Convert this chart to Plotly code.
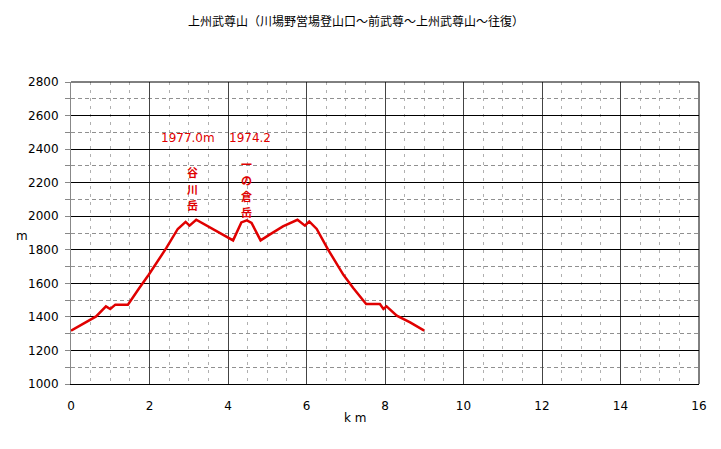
import plotly.graph_objects as go

# distance (km) and elevation (m) read from the profile
dist_km = [0.00, 0.64, 0.89, 1.00, 1.13, 1.45, 1.74, 1.98, 2.43, 2.72, 2.92, 3.02, 3.19, 3.53,
           4.13, 4.34, 4.48, 4.60, 4.83, 5.06, 5.40, 5.77, 5.96, 6.07, 6.26, 6.55, 6.94, 7.19,
           7.52, 7.87, 7.96, 8.04, 8.30, 8.64, 9.00]
elev_m = [1318, 1403, 1463, 1447, 1473, 1473, 1572, 1651, 1811, 1924, 1966, 1944, 1979, 1936,
          1856, 1963, 1975, 1960, 1856, 1890, 1939, 1979, 1944, 1969, 1924, 1801, 1651, 1572,
          1477, 1477, 1447, 1463, 1407, 1367, 1318]

title_text = "上州武尊山（川場野営場登山口～前武尊～上州武尊山～往復）"
peak_names = ["谷川岳", "一の倉岳"]
peak_name_x = [3.09, 4.47]
peak_name_char_y = [[2261, 2164, 2069], [2312, 2216, 2121, 2025]]
height_labels = ["1977.0m", "1974.2"]
height_label_x = [2.99, 4.55]
height_label_y = [2466, 2466]

x_ticks = list(range(0, 17, 2))
y_ticks = list(range(1000, 2801, 200))

RED = "#e00000"
fig = go.Figure()
fig.add_trace(go.Scatter(x=dist_km, y=elev_m, mode="lines",
                         line=dict(color=RED, width=2.5), hoverinfo="skip"))

# page body adds an 8px offset; figure is sized/margined to compensate
OFF = 8
L, T, PW, PH = 71, 82, 628, 302
fig.update_layout(
    width=721 - OFF, height=449 - OFF,
    margin=dict(l=L - OFF, r=721 - L - PW, t=T - OFF, b=449 - T - PH, autoexpand=False),
    paper_bgcolor="white", plot_bgcolor="white",
    showlegend=False,
    font=dict(family="DejaVu Sans", size=12, color="black"),
)
fig.update_xaxes(
    range=[0, 16], tickvals=x_ticks, ticks="", showline=True, linecolor="black", linewidth=1,
    showgrid=True, gridcolor="#444444", gridwidth=1, zeroline=False,
    ticklabelstandoff=11,
    minor=dict(dtick=0.5, tick0=0, showgrid=True, gridcolor="#b0b0b0", griddash="3px,5px", gridwidth=1),
)
fig.update_yaxes(
    range=[1000, 2800], tickvals=y_ticks, ticks="outside", ticklen=5, tickcolor="#888888",
    showline=True, linecolor="#888888", linewidth=1,
    showgrid=True, gridcolor="black", gridwidth=1, zeroline=False,
    ticklabelstandoff=4,
    minor=dict(dtick=100, tick0=1000, ticks="outside", ticklen=5, tickcolor="#888888",
               showgrid=True, gridcolor="#909090", griddash="4px,3px", gridwidth=1),
)

# frame top/right
fig.add_shape(type="line", xref="paper", yref="paper", x0=0, x1=1, y0=1, y1=1,
              line=dict(color="black", width=1))
fig.add_shape(type="line", xref="paper", yref="paper", x0=1, x1=1, y0=0, y1=1,
              line=dict(color="black", width=1))

fig.add_annotation(text=title_text, xref="paper", yref="paper", x=(356 - L) / PW, y=1 + (T - 20) / PH,
                   showarrow=False, xanchor="center", yanchor="middle",
                   font=dict(family="Noto Sans CJK JP", size=12, color="black"))
fig.add_annotation(text="m", xref="paper", yref="paper", x=(22 - L) / PW, y=(T + PH - 236) / PH,
                   showarrow=False, xanchor="center", yanchor="middle",
                   font=dict(family="DejaVu Sans", size=12, color="black"))
fig.add_annotation(text="k m", xref="paper", yref="paper", x=(355 - L) / PW, y=-(418 - T - PH) / PH,
                   showarrow=False, xanchor="center", yanchor="middle",
                   font=dict(family="DejaVu Sans", size=12, color="black"))

for t, x, y in zip(height_labels, height_label_x, height_label_y):
    fig.add_annotation(text=t, x=x, y=y, showarrow=False, xanchor="center", yanchor="middle",
                       font=dict(family="DejaVu Sans", size=12, color=RED))
for name, x, ys in zip(peak_names, peak_name_x, peak_name_char_y):
    for ch, y in zip(name, ys):
        fig.add_annotation(text="<b>" + ch + "</b>", x=x, y=y, showarrow=False, xanchor="center",
                           yanchor="middle", borderpad=0,
                           font=dict(family="Noto Sans CJK JP", size=11, color=RED))

fig.write_html("out.html")
